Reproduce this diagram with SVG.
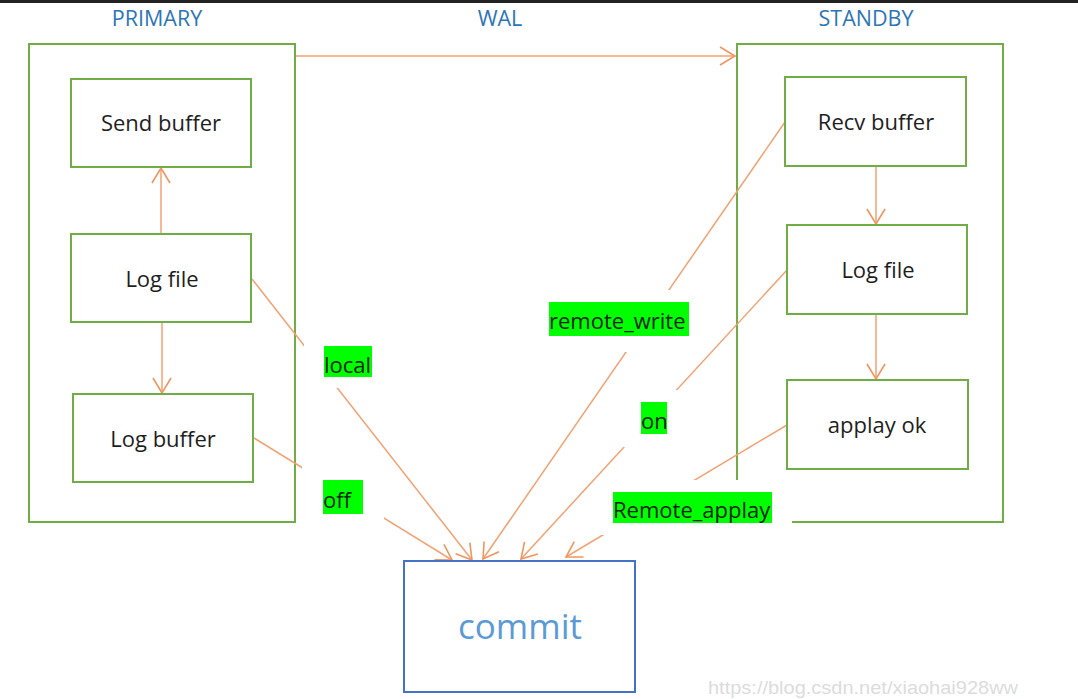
<svg xmlns="http://www.w3.org/2000/svg" width="1078" height="699" viewBox="0 0 1078 699">
  <style>
    .frame { fill: none; stroke: #70ad47; stroke-width: 2; }
    .node { fill: #ffffff; stroke: #70ad47; stroke-width: 2; }
    .ntext { font-family: "Open Sans", "Liberation Sans", sans-serif; font-size: 22px; fill: #1e1e1e; text-anchor: middle; }
    .head { font-family: "Open Sans", "Liberation Sans", sans-serif; font-size: 21.5px; fill: #2e75b6; text-anchor: middle; }
    .conn { fill: none; stroke: #f2a272; stroke-width: 1.5; }
    .pad { fill: #ffffff; stroke: none; }
    .hl { fill: #00ff00; stroke: none; }
    .ltext { font-family: "Open Sans", "Liberation Sans", sans-serif; font-size: 22px; fill: #0d1f0d; }
  </style>
  <defs>
    <marker id="arr" markerUnits="userSpaceOnUse" markerWidth="18" markerHeight="20" refX="16" refY="10" orient="auto" viewBox="0 0 18 20">
      <path d="M1,1 L16,10 L1,19" fill="none" stroke="#f0955e" stroke-width="1.6"/>
    </marker>
  </defs>
  <rect x="0" y="0" width="1078" height="699" fill="#ffffff"/>
  <rect x="0" y="0" width="1078" height="3" fill="#222222"/>

  <g id="headers">
    <text class="head" x="157" y="26">PRIMARY</text>
    <text class="head" x="500" y="26">WAL</text>
    <text class="head" x="866" y="26">STANDBY</text>
  </g>

  <g id="primary">
    <rect class="frame" x="29" y="44" width="266" height="478"/>
  </g>
  <g id="standby">
    <rect class="frame" x="737" y="44" width="266" height="478"/>
  </g>

  <g id="connectors">
    <line class="conn" x1="296" y1="56" x2="735" y2="56" marker-end="url(#arr)"/>
    <line class="conn" x1="161" y1="234" x2="161" y2="168" marker-end="url(#arr)"/>
    <line class="conn" x1="162" y1="322" x2="162" y2="393" marker-end="url(#arr)"/>
    <line class="conn" x1="876" y1="167" x2="876" y2="224" marker-end="url(#arr)"/>
    <line class="conn" x1="876" y1="314" x2="876" y2="379" marker-end="url(#arr)"/>
    <line class="conn" x1="252" y1="279" x2="472" y2="560" marker-end="url(#arr)"/>
    <line class="conn" x1="254" y1="438" x2="452" y2="560" marker-end="url(#arr)"/>
    <line class="conn" x1="785" y1="122" x2="483" y2="559" marker-end="url(#arr)"/>
    <line class="conn" x1="787" y1="270" x2="521" y2="559" marker-end="url(#arr)"/>
    <line class="conn" x1="787" y1="425" x2="566" y2="557" marker-end="url(#arr)"/>
  </g>

  <g id="send-buffer">
    <rect class="node" x="71" y="79" width="180" height="88"/>
    <text class="ntext" x="161" y="131">Send buffer</text>
  </g>
  <g id="primary-log-file">
    <rect class="node" x="71" y="234" width="180" height="88"/>
    <text class="ntext" x="162" y="287">Log file</text>
  </g>
  <g id="log-buffer">
    <rect class="node" x="73" y="394" width="180" height="88"/>
    <text class="ntext" x="163" y="447">Log buffer</text>
  </g>
  <g id="recv-buffer">
    <rect class="node" x="785" y="77" width="181" height="89"/>
    <text class="ntext" x="876" y="130">Recv buffer</text>
  </g>
  <g id="standby-log-file">
    <rect class="node" x="787" y="225" width="180" height="89"/>
    <text class="ntext" x="878" y="278">Log file</text>
  </g>
  <g id="applay-ok">
    <rect class="node" x="787" y="380" width="181" height="89"/>
    <text class="ntext" x="877" y="433">applay ok</text>
  </g>

  <g id="label-local">
    <rect class="pad" x="304" y="335" width="88" height="53"/>
    <rect class="hl" x="324" y="346" width="48" height="31"/>
    <text class="ltext" x="324" y="373">local</text>
  </g>
  <g id="label-off">
    <rect class="pad" x="302" y="462" width="82" height="60"/>
    <rect class="hl" x="323" y="480" width="40" height="34"/>
    <text class="ltext" x="323" y="508">off</text>
  </g>
  <g id="label-remote-write">
    <rect class="pad" x="539" y="290" width="160" height="62"/>
    <rect class="hl" x="549" y="302" width="140" height="34"/>
    <text class="ltext" x="549" y="329">remote_write</text>
  </g>
  <g id="label-on">
    <rect class="pad" x="620" y="390" width="60" height="57"/>
    <rect class="hl" x="641" y="402" width="26" height="32"/>
    <text class="ltext" x="641" y="429">on</text>
  </g>
  <g id="label-remote-applay">
    <rect class="pad" x="600" y="480" width="192" height="55"/>
    <rect class="hl" x="613" y="492" width="159" height="31"/>
    <text class="ltext" x="613" y="518">Remote_applay</text>
  </g>

  <g id="commit">
    <rect x="404" y="561" width="231" height="131" fill="#ffffff" stroke="#4472c4" stroke-width="2"/>
    <text x="520" y="639" font-family="'Open Sans', 'Liberation Sans', sans-serif" font-size="35" fill="#5b9bd5" text-anchor="middle">commit</text>
  </g>

  <text x="708" y="694" font-family="'Liberation Sans', sans-serif" font-size="19" fill="#dcdcdc" textLength="310" lengthAdjust="spacingAndGlyphs">https://blog.csdn.net/xiaohai928ww</text>
</svg>
